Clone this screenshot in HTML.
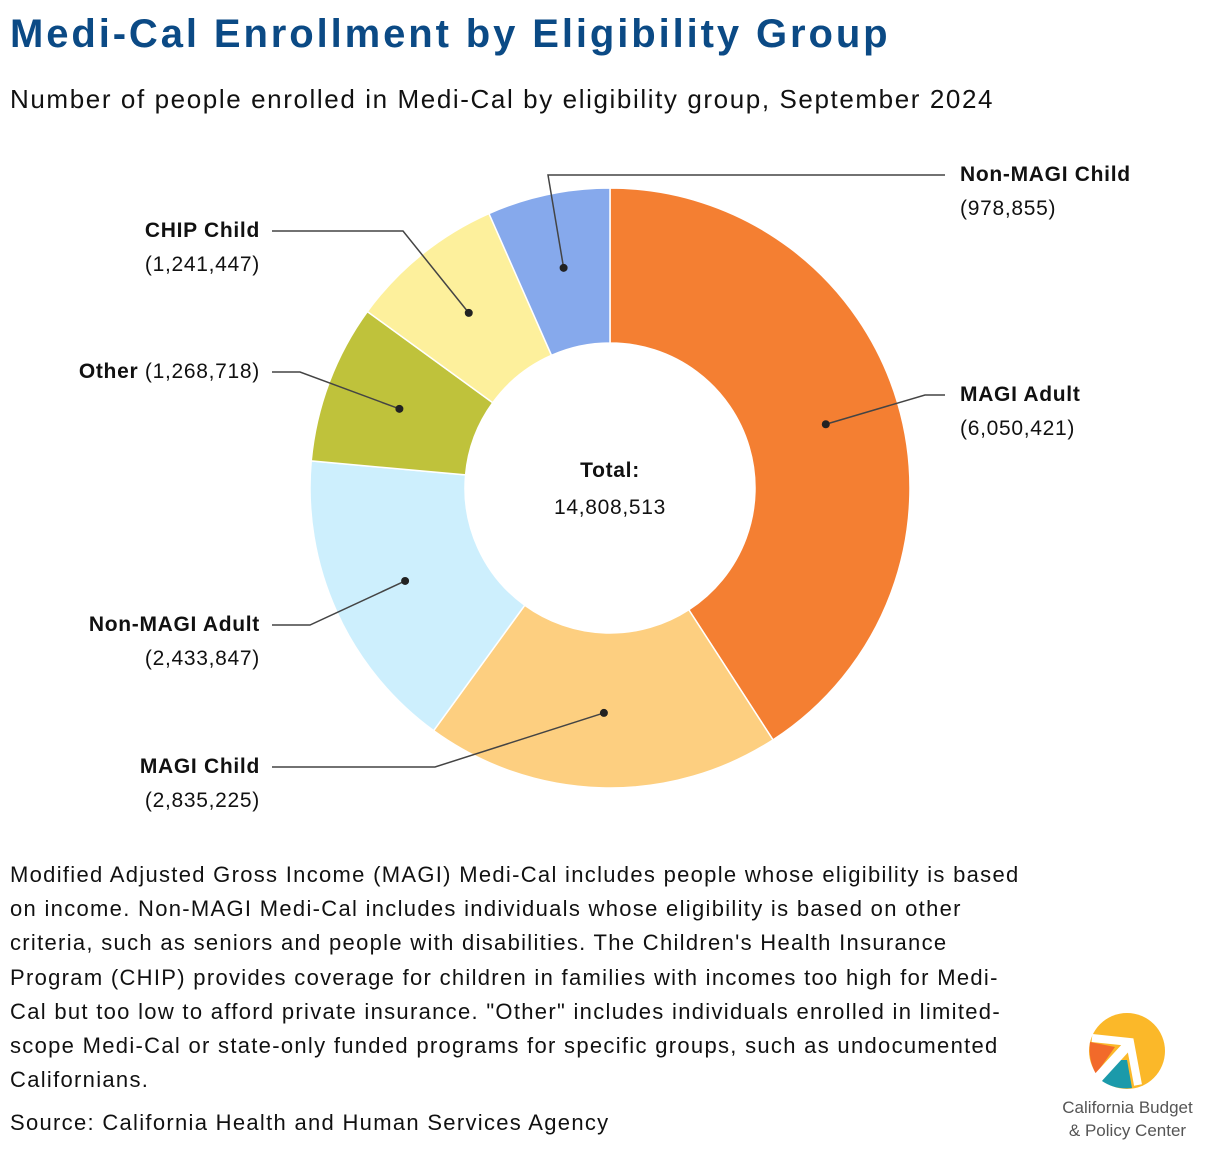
<!DOCTYPE html>
<html><head><meta charset="utf-8">
<style>
body{margin:0;width:1220px;height:1150px;background:#fff;font-family:"Liberation Sans",sans-serif;color:#111;position:relative;overflow:hidden}
.abs{position:absolute;white-space:nowrap}
.lbl{font-size:21px;line-height:34px;letter-spacing:0.7px}
.lbl b{font-weight:bold}
.fn{font-size:22px;line-height:34.2px;letter-spacing:1.3px}
</style></head><body>
<div class="abs" style="left:10px;top:12px;font-size:40px;font-weight:bold;color:#0b4a85;letter-spacing:2.9px">Medi-Cal Enrollment by Eligibility Group</div>
<div class="abs" style="left:10px;top:84px;font-size:26px;letter-spacing:1.6px">Number of people enrolled in Medi-Cal by eligibility group, September 2024</div>

<svg id="chart" width="1220" height="850" style="position:absolute;left:0;top:0"></svg>

<div class="abs lbl" style="left:960px;top:158px"><b>Non-MAGI Child</b><br>(978,855)</div>
<div class="abs lbl" style="right:960px;top:214px;text-align:right"><b>CHIP Child</b><br>(1,241,447)</div>
<div class="abs lbl" style="right:960px;top:355px;text-align:right"><b>Other</b> (1,268,718)</div>
<div class="abs lbl" style="left:960px;top:378px"><b>MAGI Adult</b><br>(6,050,421)</div>
<div class="abs lbl" style="right:960px;top:608px;text-align:right"><b>Non-MAGI Adult</b><br>(2,433,847)</div>
<div class="abs lbl" style="right:960px;top:750px;text-align:right"><b>MAGI Child</b><br>(2,835,225)</div>
<div class="abs lbl" style="left:510px;top:452px;width:200px;text-align:center;line-height:37px"><b>Total:</b><br>14,808,513</div>

<div class="abs fn" style="left:10px;top:858px">Modified Adjusted Gross Income (MAGI) Medi-Cal includes people whose eligibility is based<br>on income. Non-MAGI Medi-Cal includes individuals whose eligibility is based on other<br>criteria, such as seniors and people with disabilities. The Children's Health Insurance<br>Program (CHIP) provides coverage for children in families with incomes too high for Medi-<br>Cal but too low to afford private insurance. "Other" includes individuals enrolled in limited-<br>scope Medi-Cal or state-only funded programs for specific groups, such as undocumented<br>Californians.</div>
<div class="abs fn" style="left:10px;top:1106px">Source: California Health and Human Services Agency</div>

<svg width="120" height="90" style="position:absolute;left:1070px;top:1005px">
<circle cx="57" cy="46" r="38" fill="#fbb829"/>
<path d="M20,37 L45,42 L26,69 Q18,55 20,37Z" fill="#f26a2a"/>
<path d="M48,55 L42,58 L32,76 Q45,85 62,83 L57,55Z" fill="#1b9aaa"/>
<path d="M22,33 L60,37 L68,80" stroke="#fff" stroke-width="8" fill="none"/>
<path d="M58,40 L26,75" stroke="#fff" stroke-width="10"/>
</svg>
<div class="abs" style="left:1035px;top:1096px;width:185px;text-align:center;font-size:17px;line-height:23px;color:#555">California Budget<br>&amp; Policy Center</div>

<script>
const categories=["MAGI Adult","MAGI Child","Non-MAGI Adult","Other","CHIP Child","Non-MAGI Child"];
const values=[6050421,2835225,2433847,1268718,1241447,978855];
const colors=["#f47f32","#fdcf80","#cdeffd","#bfc23b","#fdf09c","#86a9ec"];
const elbows=[[925,395],[435,767],[310,625],[300,372],[403,231],[548,175]];
const ends=[[945,395],[272,767],[272,625],[272,372],[272,231],[945,175]];
const cx=610,cy=488,R=300,r=145;
const svg=document.getElementById('chart');
const NS="http://www.w3.org/2000/svg";
const total=values.reduce((a,b)=>a+b,0);
function pt(a,rad){return [cx+rad*Math.sin(a),cy-rad*Math.cos(a)];}
let acc=0;
values.forEach((v,i)=>{
  const a0=acc/total*2*Math.PI; acc+=v; const a1=acc/total*2*Math.PI;
  const lg=(a1-a0)>Math.PI?1:0;
  const p0=pt(a0,R),p1=pt(a1,R),q1=pt(a1,r),q0=pt(a0,r);
  const p=document.createElementNS(NS,'path');
  p.setAttribute('d',`M${p0}A${R},${R} 0 ${lg} 1 ${p1}L${q1}A${r},${r} 0 ${lg} 0 ${q0}Z`);
  p.setAttribute('fill',colors[i]);p.setAttribute('stroke','#fff');p.setAttribute('stroke-width','1.5');
  
  
  svg.appendChild(p);
});
acc=0;
values.forEach((v,i)=>{
  const am=(acc+v/2)/total*2*Math.PI; acc+=v;
  const d=pt(am,225);
  const l=document.createElementNS(NS,'polyline');
  l.setAttribute('points',`${d} ${elbows[i]} ${ends[i]}`);
  l.setAttribute('fill','none');l.setAttribute('stroke','#444');l.setAttribute('stroke-width','1.5');
  
  
  svg.appendChild(l);
  const c=document.createElementNS(NS,'circle');
  c.setAttribute('cx',d[0]);c.setAttribute('cy',d[1]);c.setAttribute('r',4);c.setAttribute('fill','#222');
  
  
  svg.appendChild(c);
});
</script>
</body></html>
